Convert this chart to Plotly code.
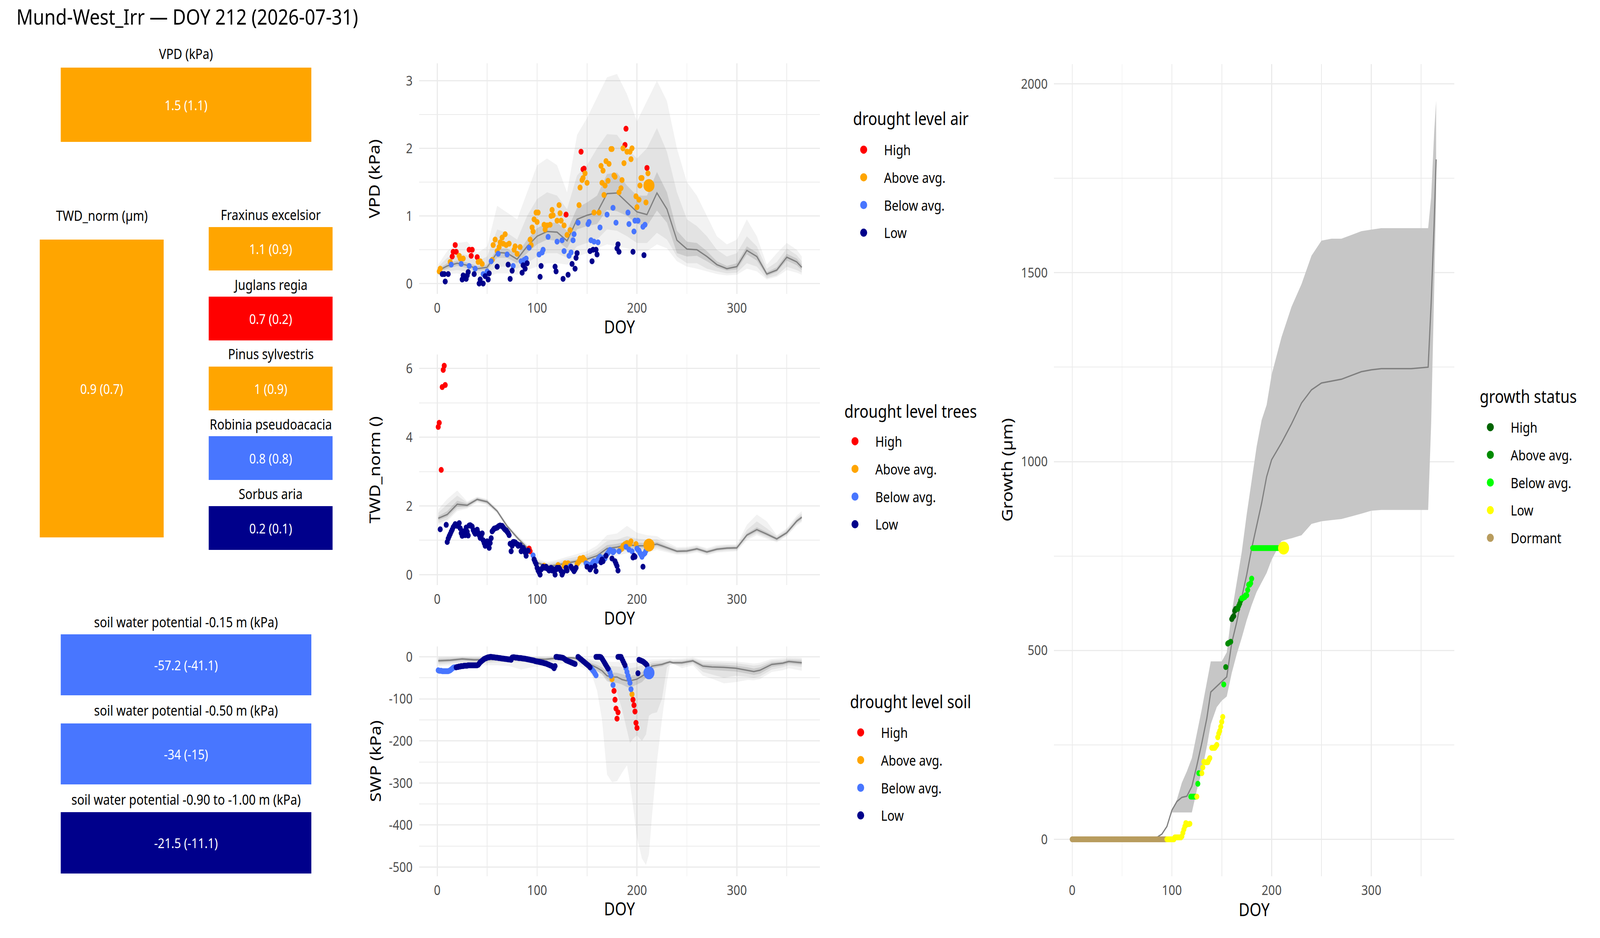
import plotly.graph_objects as go

W, H = 4800, 2400
FONT = "Noto Sans"
TICK_COLOR = "#4D4D4D"
GRID = "#EBEBEB"

# colour scales
drought_levels = ["High", "Above avg.", "Below avg.", "Low"]
drought_colors = ["#FF0000", "#FFA500", "#4876FF", "#00008B"]
growth_levels = ["High", "Above avg.", "Below avg.", "Low", "Dormant"]
growth_colors = ["#006400", "#008B00", "#00FF00", "#FFFF00", "#B89C5E"]
dcol = dict(zip(drought_levels, drought_colors))
gcol = dict(zip(growth_levels, growth_colors))
code = {"H": "High", "A": "Above avg.", "B": "Below avg.", "L": "Low", "D": "Dormant"}

# ---- summary tiles
tile_labels = ["VPD (kPa)", "TWD_norm (µm)", "Fraxinus excelsior", "Juglans regia",
               "Pinus sylvestris", "Robinia pseudoacacia", "Sorbus aria",
               "soil water potential -0.15 m (kPa)", "soil water potential -0.50 m (kPa)",
               "soil water potential -0.90 to -1.00 m (kPa)"]
tile_values = ["1.5 (1.1)", "0.9 (0.7)", "1.1 (0.9)", "0.7 (0.2)", "1 (0.9)", "0.8 (0.8)",
               "0.2 (0.1)", "-57.2 (-41.1)", "-34 (-15)", "-21.5 (-11.1)"]
tile_levels = ["A", "A", "A", "H", "A", "B", "L", "B", "B", "L"]

# ---- VPD climatology (median + 3 quantile bands) and current year
vpd_clim_doy = [1, 10, 20, 30, 40, 50, 60, 70, 80, 90, 100, 110, 120, 130, 140, 150, 160, 170, 180,
                190, 200, 210, 220, 230, 240, 250, 260, 270, 280, 290, 300, 310, 320, 330, 340, 350, 360, 365]
vpd_med = [0.19, 0.26, 0.30, 0.27, 0.22, 0.24, 0.46, 0.45, 0.36, 0.55, 0.70, 0.77, 0.76, 0.63, 0.95, 1.01, 1.05,
           1.33, 1.34, 1.20, 1.06, 1.02, 1.34, 1.10, 0.64, 0.51, 0.50, 0.40, 0.28, 0.22, 0.25, 0.49, 0.40, 0.14,
           0.20, 0.39, 0.32, 0.24]
vpd_in_lo = [0.17, 0.22, 0.26, 0.23, 0.19, 0.20, 0.38, 0.38, 0.30, 0.45, 0.58, 0.65, 0.63, 0.52, 0.80, 0.85, 0.88,
             1.09, 1.07, 1.00, 0.88, 0.85, 1.08, 0.90, 0.45, 0.40, 0.41, 0.33, 0.24, 0.19, 0.21, 0.43, 0.34, 0.11,
             0.17, 0.34, 0.27, 0.20]
vpd_in_hi = [0.22, 0.30, 0.34, 0.31, 0.26, 0.28, 0.52, 0.52, 0.43, 0.65, 0.82, 0.90, 0.90, 0.78, 1.12, 1.20, 1.30,
             1.62, 1.64, 1.45, 1.30, 1.30, 1.65, 1.35, 0.78, 0.62, 0.60, 0.48, 0.33, 0.26, 0.30, 0.55, 0.46, 0.17,
             0.24, 0.44, 0.37, 0.28]
vpd_mid_lo = [0.15, 0.18, 0.20, 0.18, 0.15, 0.15, 0.25, 0.25, 0.22, 0.30, 0.40, 0.45, 0.45, 0.38, 0.55, 0.60, 0.65,
              0.80, 0.78, 0.70, 0.60, 0.60, 0.75, 0.65, 0.40, 0.30, 0.30, 0.22, 0.18, 0.15, 0.16, 0.30, 0.25, 0.08,
              0.12, 0.25, 0.20, 0.16]
vpd_mid_hi = [0.25, 0.38, 0.45, 0.42, 0.33, 0.40, 0.80, 0.75, 0.65, 1.00, 1.25, 1.35, 1.30, 1.10, 1.60, 1.75, 2.00,
              2.21, 2.20, 2.00, 1.85, 2.00, 2.30, 1.95, 1.35, 0.95, 0.85, 0.70, 0.50, 0.40, 0.45, 0.70, 0.55, 0.22,
              0.32, 0.52, 0.42, 0.33]
vpd_out_lo = [0.13, 0.14, 0.15, 0.12, 0.10, 0.10, 0.15, 0.15, 0.13, 0.20, 0.25, 0.30, 0.30, 0.28, 0.40, 0.45, 0.52,
              0.58, 0.55, 0.52, 0.48, 0.48, 0.58, 0.52, 0.33, 0.25, 0.22, 0.18, 0.14, 0.12, 0.13, 0.22, 0.18, 0.06,
              0.10, 0.20, 0.16, 0.13]
vpd_out_hi = [0.28, 0.48, 0.60, 0.62, 0.45, 0.55, 1.15, 1.05, 0.95, 1.35, 1.75, 1.85, 1.75, 1.35, 2.20, 2.45, 2.75,
              3.05, 3.10, 2.80, 2.40, 2.70, 3.00, 2.70, 2.00, 1.50, 1.30, 1.00, 0.70, 0.58, 0.65, 0.95, 0.70, 0.28,
              0.45, 0.60, 0.50, 0.40]

vpd_doy = [2, 3, 13, 22, 23, 26, 41, 43, 45, 55, 56, 58, 60, 62, 63, 65, 66, 68, 69, 72, 77, 78, 80, 83, 93, 94,
           95, 96, 97, 99, 100, 101, 107, 108, 110, 113, 114, 115, 116, 120, 122, 123, 124, 127, 130, 133, 142, 143,
           145, 146, 148, 150, 157, 162, 164, 166, 165, 167, 168, 169, 171, 172, 174, 175, 177, 178, 182, 184, 185,
           186, 187, 190, 193, 194, 195, 199, 200, 202, 204, 205, 203, 209, 211,
           15, 16, 18, 19, 32, 35, 34, 40, 129, 144, 146, 147, 188, 189, 210,
           14, 24, 32, 38, 46, 50, 54, 61, 70, 76, 84, 87, 89, 92, 102, 105, 106, 111, 120, 125, 127, 132, 134, 136,
           137, 141, 151, 152, 154, 157, 161, 163, 170, 176, 179, 191, 192, 197, 198, 201, 206, 208,
           5, 7, 8, 11, 25, 26, 29, 30, 31, 37, 42, 43, 46, 48, 51, 52, 60, 71, 73, 75, 85, 86, 88, 90, 103, 104,
           118, 119, 126, 131, 135, 138, 139, 140, 153, 155, 156, 159, 160, 180, 181, 182, 196, 207]
vpd_val = [0.18, 0.22, 0.32, 0.41, 0.37, 0.37, 0.32, 0.33, 0.29, 0.35, 0.57, 0.65, 0.48, 0.54, 0.61, 0.68, 0.59,
           0.73, 0.57, 0.59, 0.50, 0.55, 0.44, 0.54, 0.65, 0.57, 0.83, 0.77, 0.95, 1.05, 0.91, 1.05, 0.87, 0.80,
           0.86, 0.87, 1.00, 1.09, 1.01, 0.93, 1.16, 1.04, 0.93, 0.86, 0.72, 0.79, 1.16, 1.42, 1.53, 1.56, 1.63,
           1.49, 1.05, 1.05, 1.74, 1.67, 1.49, 1.31, 1.45, 1.81, 1.52, 1.77, 1.99, 1.99, 1.60, 1.58, 1.35, 1.41,
           1.53, 2.00, 1.78, 1.95, 1.95, 1.84, 2.00, 1.29, 1.13, 1.24, 1.56, 1.56, 1.45, 1.20, 1.63,
           0.40, 0.47, 0.57, 0.47, 0.50, 0.50, 0.41, 0.39, 1.02, 1.95, 1.69, 1.70, 2.05, 2.29, 1.71,
           0.28, 0.29, 0.26, 0.22, 0.14, 0.18, 0.33, 0.44, 0.43, 0.26, 0.33, 0.35, 0.37, 0.53, 0.43, 0.46, 0.50,
           0.69, 0.62, 0.64, 0.48, 0.41, 0.46, 0.64, 0.73, 0.90, 0.88, 0.91, 0.64, 0.62, 0.61, 0.83, 1.02, 1.12,
           0.90, 1.05, 0.88, 0.77, 0.93, 0.93, 0.84, 0.87,
           0.14, 0.14, 0.03, 0.14, 0.06, 0.12, 0.07, 0.12, 0.17, 0.14, 0.00, 0.06, 0.00, 0.11, 0.06, 0.15, 0.25,
           0.28, 0.07, 0.19, 0.16, 0.27, 0.22, 0.30, 0.10, 0.26, 0.25, 0.18, 0.07, 0.13, 0.29, 0.22, 0.38, 0.45,
           0.48, 0.33, 0.50, 0.50, 0.43, 0.52, 0.58, 0.47, 0.47, 0.42]
vpd_lvl = "A" * 83 + "H" * 15 + "B" * 42 + "L" * 44
vpd_today = (212, 1.45, "A")

# ---- TWD_norm climatology and current year
twd_med = [1.64, 1.75, 2.05, 2.02, 2.19, 2.12, 1.85, 1.41, 1.08, 0.78, 0.35, 0.24, 0.28, 0.34, 0.39, 0.45, 0.55,
           0.76, 0.80, 0.87, 0.84, 0.84, 0.89, 0.78, 0.68, 0.69, 0.75, 0.66, 0.74, 0.77, 0.78, 1.15, 1.31, 1.18,
           1.04, 1.22, 1.56, 1.67]
twd_in_lo = [1.58, 1.68, 1.97, 1.98, 2.15, 2.08, 1.82, 1.38, 1.05, 0.74, 0.31, 0.20, 0.23, 0.29, 0.33, 0.38, 0.47,
             0.66, 0.72, 0.78, 0.76, 0.77, 0.83, 0.73, 0.64, 0.65, 0.71, 0.62, 0.70, 0.73, 0.74, 1.10, 1.25, 1.13,
             1.00, 1.18, 1.51, 1.62]
twd_in_hi = [1.70, 1.85, 2.15, 2.07, 2.23, 2.16, 1.88, 1.44, 1.11, 0.82, 0.39, 0.29, 0.33, 0.40, 0.45, 0.52, 0.64,
             0.86, 0.90, 0.97, 0.93, 0.92, 0.96, 0.83, 0.72, 0.73, 0.79, 0.70, 0.78, 0.81, 0.82, 1.20, 1.38, 1.24,
             1.08, 1.27, 1.61, 1.72]
twd_mid_lo = [1.50, 1.60, 1.90, 1.95, 2.13, 2.05, 1.80, 1.36, 1.03, 0.71, 0.28, 0.17, 0.19, 0.24, 0.28, 0.32, 0.40,
              0.57, 0.63, 0.70, 0.68, 0.70, 0.77, 0.69, 0.61, 0.62, 0.68, 0.59, 0.67, 0.70, 0.71, 1.05, 1.20, 1.08,
              0.97, 1.15, 1.47, 1.57]
twd_mid_hi = [1.80, 2.05, 2.30, 2.10, 2.25, 2.18, 1.90, 1.46, 1.13, 0.85, 0.42, 0.33, 0.38, 0.46, 0.52, 0.60, 0.75,
              0.98, 1.02, 1.12, 1.05, 1.02, 1.03, 0.88, 0.76, 0.77, 0.83, 0.73, 0.82, 0.85, 0.85, 1.30, 1.55, 1.35,
              1.12, 1.31, 1.66, 1.78]
twd_out_lo = [1.45, 1.55, 1.85, 1.92, 2.10, 2.03, 1.78, 1.34, 1.00, 0.68, 0.25, 0.14, 0.15, 0.20, 0.23, 0.26, 0.33,
              0.48, 0.55, 0.62, 0.60, 0.64, 0.72, 0.65, 0.58, 0.59, 0.65, 0.56, 0.64, 0.66, 0.68, 1.00, 1.15, 1.04,
              0.94, 1.12, 1.43, 1.53]
twd_out_hi = [1.90, 2.20, 2.45, 2.13, 2.27, 2.20, 1.92, 1.48, 1.16, 0.88, 0.46, 0.37, 0.43, 0.52, 0.60, 0.68, 0.85,
              1.15, 1.20, 1.42, 1.22, 1.15, 1.12, 0.95, 0.80, 0.81, 0.86, 0.77, 0.86, 0.88, 0.88, 1.45, 1.75, 1.55,
              1.15, 1.35, 1.72, 1.85]

twd_doy = [1, 2, 4, 5, 6, 7, 8, 92, 93,
           3, 9, 10, 11, 12, 13, 14, 15, 16, 17, 18, 19, 20, 21, 22, 23, 24, 25, 26, 27, 28, 29, 30, 31, 32, 33, 34,
           35, 36, 37, 38, 39, 40, 41, 42, 43, 44, 45, 46, 47, 48, 49, 50, 51, 52, 53, 54, 55, 56, 57, 58, 59, 60,
           61, 62, 63, 64, 65, 66, 67, 68, 69, 70, 71, 72, 73, 74, 75, 76, 77, 78, 79, 80, 81, 82, 83, 84, 85, 86,
           87, 88, 89, 90, 91,
           96, 97, 98, 99, 100, 101, 102, 103, 104, 105, 106, 107, 108, 109, 110, 111, 112, 113, 114, 115, 116,
           117, 118, 119, 120, 121, 122, 123, 124, 125, 126, 127, 128, 129, 130, 131, 133, 134, 135, 136, 137, 138,
           139, 140, 141, 142, 143, 144, 145, 146, 147, 148, 149, 150, 151, 152, 153, 154, 155, 156, 157, 158, 159,
           160, 161, 162, 163, 164, 165, 166, 167, 168, 169, 170, 171, 172, 173, 174, 175, 176, 177, 178, 179, 180,
           181, 182, 183, 184, 185, 186, 187, 188, 189, 190, 191, 192, 193, 194, 195, 196, 197, 198, 199, 200, 201,
           202, 203, 204, 205, 206, 207, 208, 209, 210, 211]
twd_val = [4.30, 4.42, 3.05, 5.46, 5.96, 6.08, 5.52, 0.76, 0.68,
           1.32, 1.45, 0.95, 1.05, 1.12, 1.18, 1.25, 1.31, 1.38, 1.42, 1.47, 1.45, 1.42, 1.46, 1.50, 1.35, 1.21,
           1.13, 1.26, 1.20, 1.15, 1.37, 1.25, 1.14, 1.43, 1.44, 1.42, 1.40, 1.30, 1.24, 1.19, 1.25, 1.31, 1.22,
           1.15, 1.07, 1.12, 1.20, 1.00, 0.92, 0.84, 0.90, 0.97, 0.92, 0.78, 0.92, 1.06, 1.26, 1.30, 1.34, 1.35,
           1.36, 1.37, 1.40, 1.42, 1.43, 1.42, 1.42, 1.38, 1.34, 1.31, 1.29, 1.25, 1.21, 1.15, 0.90, 0.68, 0.84,
           0.95, 0.95, 0.94, 0.90, 0.89, 0.84, 0.85, 0.86, 0.68, 0.72, 0.78, 0.73, 0.65, 0.55, 0.68, 0.70,
           0.56, 0.44, 0.37, 0.31, 0.20, 0.12, 0.07, 0.00, 0.15, 0.18, 0.23, 0.26, 0.20, 0.23, 0.18, 0.17, 0.12,
           0.15, 0.20, 0.12, 0.16, 0.10, 0.00, 0.15, 0.20, 0.28, 0.20, 0.15, 0.10, 0.00, 0.07, 0.25, 0.33, 0.20,
           0.12, 0.33, 0.25, 0.23, 0.18, 0.15, 0.10, 0.15, 0.20, 0.31, 0.35, 0.39, 0.47, 0.44, 0.44, 0.49, 0.45,
           0.41, 0.33, 0.23, 0.30, 0.28, 0.15, 0.20, 0.32, 0.36, 0.39, 0.25, 0.10, 0.40, 0.45, 0.48, 0.52, 0.36,
           0.44, 0.39, 0.50, 0.47, 0.55, 0.60, 0.63, 0.68, 0.72, 0.70, 0.47, 0.65, 0.68, 0.39, 0.32, 0.25, 0.12,
           0.68, 0.72, 0.74, 0.76, 0.84, 0.86, 0.89, 0.81, 0.92, 0.88, 0.73, 0.90, 0.97, 0.68, 0.50, 0.55, 0.52,
           0.89, 0.76, 0.72, 0.70, 0.63, 0.58, 0.52, 0.23, 0.60, 0.63, 0.70, 0.78, 0.82]
twd_lvl = ("H" * 9 + "L" * 84 +
           "BLLLLLLLLL" "LALLLLLLLL" "LLLLLALLLL" "LAALLA" "BLLLLLLAAA" "AAAAAABLBB"
           "LLBBBLLBBB" "BLLLBBLBBB" "BBLBBLLLLB" "AAAAAABAAB" "AABLLLABBB" "BBBLBBBAA")
twd_today = (212, 0.86, "A")

# ---- soil water potential climatology and current year
swp_clim_doy = [1, 13, 25, 37, 49, 60, 72, 84, 96, 108, 120, 132, 138, 144, 150, 155, 160, 165, 170, 175, 180,
                185, 190, 193, 196, 200, 205, 209, 212, 215, 220, 225, 230, 233, 236, 245, 256, 266, 275, 287,
                299, 311, 317, 323, 335, 346, 352, 365]
swp_med = [-9.5, -8, -5, -7, -7, -5, -5, -5, -5, -6, -3, -2, -3, -8, -15, -21, -26, -33, -45, -48, -48, -54, -57,
           -57, -55, -53, -46, -40, -30, -22, -20, -18, -14, -12, -14, -14, -9.5, -22, -24, -25, -27, -32, -35,
           -32, -18, -15, -11, -14]
swp_in_lo = [-14, -12, -9, -11, -11, -9, -9, -9, -9, -10, -7, -6, -7, -13, -20, -26, -33, -42, -58, -62, -62, -66,
             -72, -74, -70, -66, -60, -50, -40, -29, -25, -23, -18, -15, -17, -18, -13, -28, -31, -33, -35, -40,
             -43, -40, -24, -20, -16, -19]
swp_in_hi = [-5, -4, -2, -3, -3, -2, -2, -2, -2, -3, -1, 0, -1, -4, -10, -15, -19, -25, -34, -37, -38, -41, -45,
             -46, -44, -42, -36, -30, -20, -16, -15, -14, -11, -9, -11, -10, -6, -17, -18, -19, -21, -25, -28, -25,
             -13, -11, -7, -9]
swp_mid_lo = [-18, -16, -13, -15, -15, -13, -13, -13, -13, -14, -11, -10, -12, -18, -22, -28, -35, -40, -52, -66,
              -85, -125, -175, -205, -195, -187, -200, -185, -140, -135, -132, -100, -25, -18, -18, -22, -16,
              -36, -42, -50, -45, -48, -50, -47, -30, -25, -20, -24]
swp_mid_hi = [-2, -1, 0, -1, -1, 0, 0, 0, 0, -1, 0, 0, 0, -2, -6, -9, -12, -15, -20, -22, -23, -24, -26, -27, -26,
              -24, -20, -16, -13, -11, -10, -9, -8, -7, -8, -7, -4, -12, -13, -14, -15, -19, -21, -19, -9, -7, -4,
              -5]
swp_out_lo = [-22, -20, -17, -19, -20, -20, -22, -30, -24, -20, -18, -15, -17, -24, -30, -45, -80, -150, -280,
              -298, -296, -276, -258, -300, -354, -430, -480, -495, -470, -380, -250, -150, -60, -20, -16, -27,
              -20, -45, -52, -63, -60, -55, -56, -53, -36, -32, -27, -33]
swp_out_hi = [0, 0, 0, 0, 0, 0, 0, 0, 0, 0, 0, 0, 0, 0, -3, -5, -6, -8, -11, -12, -12, -13, -14, -15, -14, -13,
              -10, -8, -7, -6, -6, -5, -5, -4, -5, -4, -1, -8, -9, -10, -11, -14, -16, -14, -5, -3, -1, -2]

swp_doy = [1, 2, 3, 4, 5, 6, 7, 8, 9, 10, 11, 12, 13, 14, 15, 16, 17, 18,
           19, 20, 21, 22, 23, 24, 25, 26, 27, 28, 29, 30, 31, 32, 33, 34, 35, 36, 37, 38, 39, 40, 41, 42, 43,
           44, 45, 46, 47, 48, 49, 50, 51, 52, 53, 54, 55, 56, 57, 58, 59, 60, 61, 62, 63, 64, 65, 66, 67, 68,
           69, 70, 71, 72, 73, 74, 75, 76, 77, 78, 79, 80, 81, 82, 83, 84, 85, 86, 87, 88, 89, 90, 91, 92, 93,
           94, 95, 96, 97, 98, 99, 100, 101, 102, 103, 104, 105, 106, 107, 108, 109, 110, 111, 112, 113, 114,
           115, 116, 117, 118,
           119, 120, 121, 122, 123, 124, 125, 126, 127, 128, 129, 130, 131, 132, 133, 134, 135, 136, 137, 138,
           141, 142, 143, 144, 145, 146, 147, 148, 149, 150, 151, 152, 153,
           154, 155, 156, 157, 158, 159,
           159, 160, 161, 162, 163, 164, 165, 166, 167, 168, 169, 170, 171,
           172, 173, 174, 175, 176, 177, 178, 179, 180, 181,
           181, 182, 183, 184, 185, 186, 187, 188,
           189, 190, 191, 192, 193, 194, 195, 196, 197, 198, 199, 200,
           201, 202, 203, 204, 205, 206, 207, 208, 209, 210]
swp_val = [-32, -33, -33, -33, -34, -34, -34, -34, -34, -34, -34, -33, -32, -30, -28, -26, -25, -25,
           -25, -24, -24, -23, -23, -22, -22, -22, -21, -21, -21, -21, -20, -20, -20, -20, -20, -20, -20, -20,
           -20, -20, -19, -16, -13, -11, -9, -7, -5, -4, -3, -2, -1, -1, 0, 0, -0.5, -1, -1, -1.5, -2, -2, -2.5,
           -3, -3, -3.5, -4, -4, -4.5, -5, -5, -5.5, -6, -6, -6.5, -7, -1.5, -1, -1, -1.5, -2, -2, -2.5, -3, -3,
           -3, -3.5, -4, -4, -4.5, -5, -5.5, -6, -6.5, -7, -7.5, -8, -8.5, -9, -10, -10.5, -11, -11.5, -12,
           -12.5, -13, -13.5, -14, -15, -15.5, -16, -17, -18, -19, -20, -21, -22, -24, -27, -22,
           0, 0, -0.5, -1, -1, -1.5, -2, -2.5, -4, -6, -8, -9, -10, -11, -12, -13, -14, -15, -16, -17,
           0, -2, -4, -6, -8, -10, -12, -14, -16, -18, -20, -22, -25,
           -27, -30, -33, -36, -40, -44,
           0, 0, 0, 0, 0, -1, -4, -8, -12, -16, -20, -24, -28,
           -31, -37, -45, -53, -67, -81, -102, -123, -147, -132,
           0, 0, 0, 0, -5, -10, -15, -20,
           -27, -36, -45, -53, -62, -77, -89, -102, -115, -130, -157, -169,
           -39, -7, -8, -9, -10, -11, -13, -15, -17, -20]
swp_lvl = ("B" * 18 + "L" * 100 + "L" * 20 + "L" * 13 + "B" * 6 + "L" * 13 +
           "BBBABHHHHH" + "L" * 8 + "BBBBBBAHHHHH" + "L" * 10)
swp_today = (212, -38, "B")

# ---- radial growth climatology and current year
growth_clim_doy = [0, 85, 90, 95, 100, 105, 110, 115, 120, 125, 130, 135, 139, 145, 150, 155, 160, 165, 170, 175,
                   180, 185, 190, 195, 200, 210, 220, 230, 240, 250, 260, 270, 280, 290, 300, 310, 320, 340, 357,
                   360, 363, 365]
growth_med = [0, 5, 14, 34, 77, 100, 111, 114, 140, 195, 255, 320, 390, 405, 418, 430, 520, 575, 640, 700, 770,
              830, 890, 960, 1005, 1050, 1100, 1155, 1190, 1208, 1213, 1218, 1228, 1238, 1243, 1246, 1246, 1246,
              1250, 1420, 1630, 1800]
growth_band_doy = [100, 105, 110, 115, 120, 125, 130, 135, 139, 145, 150, 155, 160, 165, 170, 175, 180, 185, 190,
                   195, 200, 210, 220, 230, 240, 250, 260, 270, 280, 290, 300, 310, 320, 340, 357, 360, 363, 365]
growth_lo = [71, 71, 71, 71, 71, 130, 180, 245, 305, 350, 367, 378, 440, 490, 533, 580, 620, 655, 680, 705, 740,
             790, 797, 805, 835, 842, 845, 848, 855, 862, 870, 872, 872, 872, 872, 1100, 1450, 1700]
growth_hi = [74, 105, 150, 180, 215, 280, 345, 415, 471, 471, 471, 495, 600, 680, 760, 860, 950, 1040, 1110,
             1150, 1230, 1330, 1410, 1470, 1545, 1585, 1590, 1590, 1600, 1610, 1614, 1618, 1618, 1618, 1618, 1700,
             1870, 1955]

growth_dormant_doy = list(range(0, 95))
growth_dormant_val = [0] * 95
growth_doy = [95, 96, 97, 98, 99, 100, 101, 102, 103, 104, 105, 106, 107, 108, 109, 110, 111, 112, 113, 114, 115,
              116, 117, 118, 125, 130, 131, 132, 133, 134, 135, 136, 137, 138, 140, 141, 142, 143, 144, 145, 146,
              147, 148, 149, 150, 151,
              114, 119, 120, 121, 122, 123, 124, 126, 127, 152, 170, 171, 172, 173, 174, 175, 176, 177, 178, 179,
              180, 181, 182, 183, 184, 185, 186, 187, 188, 189, 190, 191, 192, 193, 194, 195, 196, 197, 198, 199,
              200, 201, 202, 203, 204, 205, 206, 207, 208, 209, 210,
              154, 156, 157, 159, 166, 167, 168, 169,
              160, 161, 162, 163, 164, 165]
growth_val = [0, 0, 0, 0, 0, 0, 0, 0, 5, 5, 5, 5, 5, 5, 5, 8, 17, 26, 34, 43, 40, 40, 40, 41, 113, 175, 190, 205,
              204, 204, 204, 204, 210, 215, 242, 242, 242, 242, 246, 250, 270, 280, 287, 298, 311, 324,
              38, 113, 113, 113, 113, 113, 113, 147, 175, 410, 638, 638, 641, 641, 646, 646, 660, 674, 674, 678,
              690, 771, 771, 771, 771, 771, 771, 771, 771, 771, 771, 771, 771, 771, 771, 771, 771, 771, 771, 771,
              771, 771, 771, 771, 771, 771, 771, 771, 771, 771, 771,
              456, 518, 520, 523, 610, 618, 624, 632,
              583, 588, 591, 605, 610, 610]
growth_lvl = "L" * 46 + "B" * 51 + "A" * 8 + "H" * 6
growth_today = (212, 771, "L")


def fx(p):
    return p / W


def fy(p):
    return 1 - p / H


fig = go.Figure()
annotations = []
axes = {}

# ---- tiles: one tiny hidden axis pair per tile, filled by a single bar
tile_boxes = [(182, 934, 173, 363, 137), (119, 491, 613, 1375, 551), (626, 998, 581, 692, 550),
              (626, 998, 759, 871, 729), (626, 998, 938, 1050, 906), (626, 998, 1116, 1228, 1085),
              (626, 998, 1295, 1407, 1264), (182, 934, 1623, 1779, 1591), (182, 934, 1851, 2007, 1818),
              (182, 934, 2078, 2235, 2045)]
for i, (lab, val, lv, box) in enumerate(zip(tile_labels, tile_values, tile_levels, tile_boxes)):
    n = i + 5
    x0, x1, yt, yb, ly = box
    fig.add_trace(go.Bar(x=[0], y=[1], width=[1], text=[val], textposition="inside",
                         insidetextanchor="middle", textangle=0,
                         textfont=dict(family=FONT, size=35, color="white"),
                         marker=dict(color=dcol[code[lv]], line=dict(width=0)),
                         xaxis="x%d" % n, yaxis="y%d" % n, showlegend=False, hoverinfo="skip"))
    axes["xaxis%d" % n] = dict(domain=[fx(x0), fx(x1)], range=[-0.5, 0.5], visible=False,
                               fixedrange=True, anchor="y%d" % n)
    axes["yaxis%d" % n] = dict(domain=[fy(yb), fy(yt)], range=[0, 1], visible=False,
                               fixedrange=True, anchor="x%d" % n)
    annotations.append(dict(text=lab, x=fx((x0 + x1) / 2), y=fy(ly), xref="paper", yref="paper",
                            showarrow=False, xanchor="center", yanchor="middle",
                            font=dict(family=FONT, size=36, color="black")))


def band(doy, lo, hi, color, xa, ya):
    fig.add_trace(go.Scatter(x=doy + doy[::-1], y=hi + lo[::-1], fill="toself", fillcolor=color,
                             mode="lines", line=dict(width=0), hoverinfo="skip", showlegend=False,
                             xaxis=xa, yaxis=ya))


def clim(doy, med, bands, xa, ya):
    alphas = ["rgba(0,0,0,0.05)", "rgba(0,0,0,0.058)", "rgba(0,0,0,0.10)"]
    for (lo, hi), c in zip(bands, alphas):
        band(doy, lo, hi, c, xa, ya)
    fig.add_trace(go.Scatter(x=doy, y=med, mode="lines", line=dict(color="#808080", width=3.5),
                             hoverinfo="skip", showlegend=False, xaxis=xa, yaxis=ya))


def points(doy, val, lvl, today, levels, colors, key, legend, xa, ya, psize=15):
    cmap = dict(zip(levels, colors))
    for lv, c in zip(levels, colors):
        xs = [d for d, l in zip(doy, lvl) if code[l] == lv]
        ys = [v for v, l in zip(val, lvl) if code[l] == lv]
        fig.add_trace(go.Scatter(x=xs, y=ys, mode="markers", marker=dict(size=psize, color=c),
                                 name=lv, legendgroup=key + lv, showlegend=False,
                                 xaxis=xa, yaxis=ya))
    d, v, l = today
    fig.add_trace(go.Scatter(x=[d], y=[v], mode="markers", marker=dict(size=33, color=cmap[code[l]]),
                             showlegend=False, xaxis=xa, yaxis=ya, hoverinfo="skip"))
    # legend keys (bigger than the data markers, as in the original)
    for lv, c in zip(levels, colors):
        fig.add_trace(go.Scatter(x=[None], y=[None], mode="markers",
                                 marker=dict(size=16, color=c, line=dict(width=5, color=c)),
                                 name=lv, legendgroup=key + lv, legend=legend, xaxis=xa, yaxis=ya))


clim(vpd_clim_doy, vpd_med, [(vpd_out_lo, vpd_out_hi), (vpd_mid_lo, vpd_mid_hi), (vpd_in_lo, vpd_in_hi)], "x", "y")
points(vpd_doy, vpd_val, vpd_lvl, vpd_today, drought_levels, drought_colors, "vpd", "legend", "x", "y")

clim(vpd_clim_doy, twd_med, [(twd_out_lo, twd_out_hi), (twd_mid_lo, twd_mid_hi), (twd_in_lo, twd_in_hi)], "x2", "y2")
points(twd_doy, twd_val, twd_lvl, twd_today, drought_levels, drought_colors, "twd", "legend2", "x2", "y2")

clim(swp_clim_doy, swp_med, [(swp_out_lo, swp_out_hi), (swp_mid_lo, swp_mid_hi), (swp_in_lo, swp_in_hi)], "x3", "y3")
points(swp_doy, swp_val, swp_lvl, swp_today, drought_levels, drought_colors, "swp", "legend3", "x3", "y3")

band(growth_band_doy, growth_lo, growth_hi, "#C6C6C6", "x4", "y4")
fig.add_trace(go.Scatter(x=growth_clim_doy, y=growth_med, mode="lines", line=dict(color="#7F7F7F", width=3.5),
                         hoverinfo="skip", showlegend=False, xaxis="x4", yaxis="y4"))
fig.add_trace(go.Scatter(x=growth_dormant_doy, y=growth_dormant_val, mode="markers",
                         marker=dict(size=15, color=gcol["Dormant"]), showlegend=False,
                         legendgroup="grDormant", xaxis="x4", yaxis="y4"))
points(growth_doy, growth_val, growth_lvl, growth_today, growth_levels, growth_colors, "gr", "legend4",
       "x4", "y4")

# ---- axes
base = dict(showgrid=True, gridcolor=GRID, gridwidth=2.8, zeroline=False, showline=False, ticks="",
            tickfont=dict(family=FONT, size=35, color=TICK_COLOR), fixedrange=True)


def xax(dom, anchor):
    return dict(base, domain=dom, anchor=anchor, range=[-18.25, 383.25], tickmode="array",
                tickvals=[0, 100, 200, 300], ticktext=["0", "100", "200", "300"], ticklabelstandoff=12,
                minor=dict(tickmode="array", tickvals=[50, 150, 250, 350], showgrid=True, gridcolor=GRID,
                           gridwidth=2))


def yax(dom, anchor, rng, major, minor):
    return dict(base, domain=dom, anchor=anchor, range=rng, tickmode="array", tickvals=major,
                ticktext=[("%g" % m) for m in major], ticklabelstandoff=18,
                minor=dict(tickmode="array", tickvals=minor, showgrid=True, gridcolor=GRID, gridwidth=2))


mid_x = [fx(1257), fx(2460)]
axes["xaxis"] = xax(mid_x, "y")
axes["xaxis2"] = xax(mid_x, "y2")
axes["xaxis3"] = xax(mid_x, "y3")
axes["xaxis4"] = xax([fx(3162), fx(4363)], "y4")
axes["yaxis"] = yax([fy(752.3), fy(162.4)], "x", [-0.155, 3.255], [0, 1, 2, 3], [0.5, 1.5, 2.5])
axes["yaxis2"] = yax([fy(1497.1), fy(907.3)], "x2", [-0.305, 6.405], [0, 2, 4, 6], [1, 3, 5])
axes["yaxis3"] = yax([fy(2241.9), fy(1653.9)], "x3", [-521.8, 24.85], [0, -100, -200, -300, -400, -500],
                     [-50, -150, -250, -350, -450])
axes["yaxis4"] = yax([fy(2241.9), fy(163.6)], "x4", [-97.75, 2052.75], [0, 500, 1000, 1500, 2000],
                     [250, 750, 1250, 1750])

# ---- titles
title_font = dict(family=FONT, size=45, color="black")
annotations.append(dict(text="Mund-West_Irr — DOY 212 (2026-07-31)", x=fx(47), y=fy(42), xref="paper",
                        yref="paper", showarrow=False, xanchor="left", yanchor="middle",
                        font=dict(family=FONT, size=55, color="black")))
for xc, yc in [(1858.5, 835.5), (1858.5, 1580.6), (1858.5, 2324.5), (3762.5, 2326.8)]:
    annotations.append(dict(text="DOY", x=fx(xc), y=fy(yc), xref="paper", yref="paper", showarrow=False,
                            xanchor="center", yanchor="middle", font=title_font))
for txt, xc, yc in [("VPD (kPa)", 1122, 457.4), ("TWD_norm ()", 1122, 1202.2), ("SWP (kPa)", 1125, 1947.9),
                    ("Growth (µm)", 3020, 1202.8)]:
    annotations.append(dict(text=txt, x=fx(xc), y=fy(yc), xref="paper", yref="paper", showarrow=False,
                            xanchor="center", yanchor="middle", textangle=-90, font=title_font))

# legend titles (left edge, centre y) and legend boxes (left, top)
legend_titles = [("drought level air", 2557, 302), ("drought level trees", 2531, 1051),
                 ("drought level soil", 2548, 1794), ("growth status", 4437, 1013)]
for txt, xl, yc in legend_titles:
    annotations.append(dict(text=txt, x=fx(xl), y=fy(yc), xref="paper", yref="paper", showarrow=False,
                            xanchor="left", yanchor="middle", font=title_font))


def legend_cfg(x_px, y_px):
    return dict(x=fx(x_px), y=fy(y_px), xanchor="left", yanchor="top", orientation="v",
                font=dict(family=FONT, size=36, color="black"), itemwidth=112, tracegroupgap=21,
                bgcolor="rgba(0,0,0,0)", borderwidth=0, traceorder="grouped")


fig.update_layout(
    width=W, height=H, margin=dict(l=0, r=0, t=0, b=0), autosize=False,
    paper_bgcolor="white", plot_bgcolor="white", font=dict(family=FONT),
    annotations=annotations, barmode="overlay",
    legend=legend_cfg(2530, 353),
    legend2=legend_cfg(2504, 1099),
    legend3=legend_cfg(2521, 1844),
    legend4=legend_cfg(4410, 1063),
    **axes,
)

# fit the 4800x2400 figure into the viewport the page is shown in
fit_js = """
var gd = document.getElementById('{plot_id}');
document.body.style.margin = '0';
document.body.style.overflow = 'hidden';
gd.style.transformOrigin = '0 0';
gd.style.transform = 'scale(' + (window.innerWidth / 4800) + ',' + (window.innerHeight / 2400) + ')';
"""
fig.write_html("out.html", post_script=fit_js, config={"displayModeBar": False})
